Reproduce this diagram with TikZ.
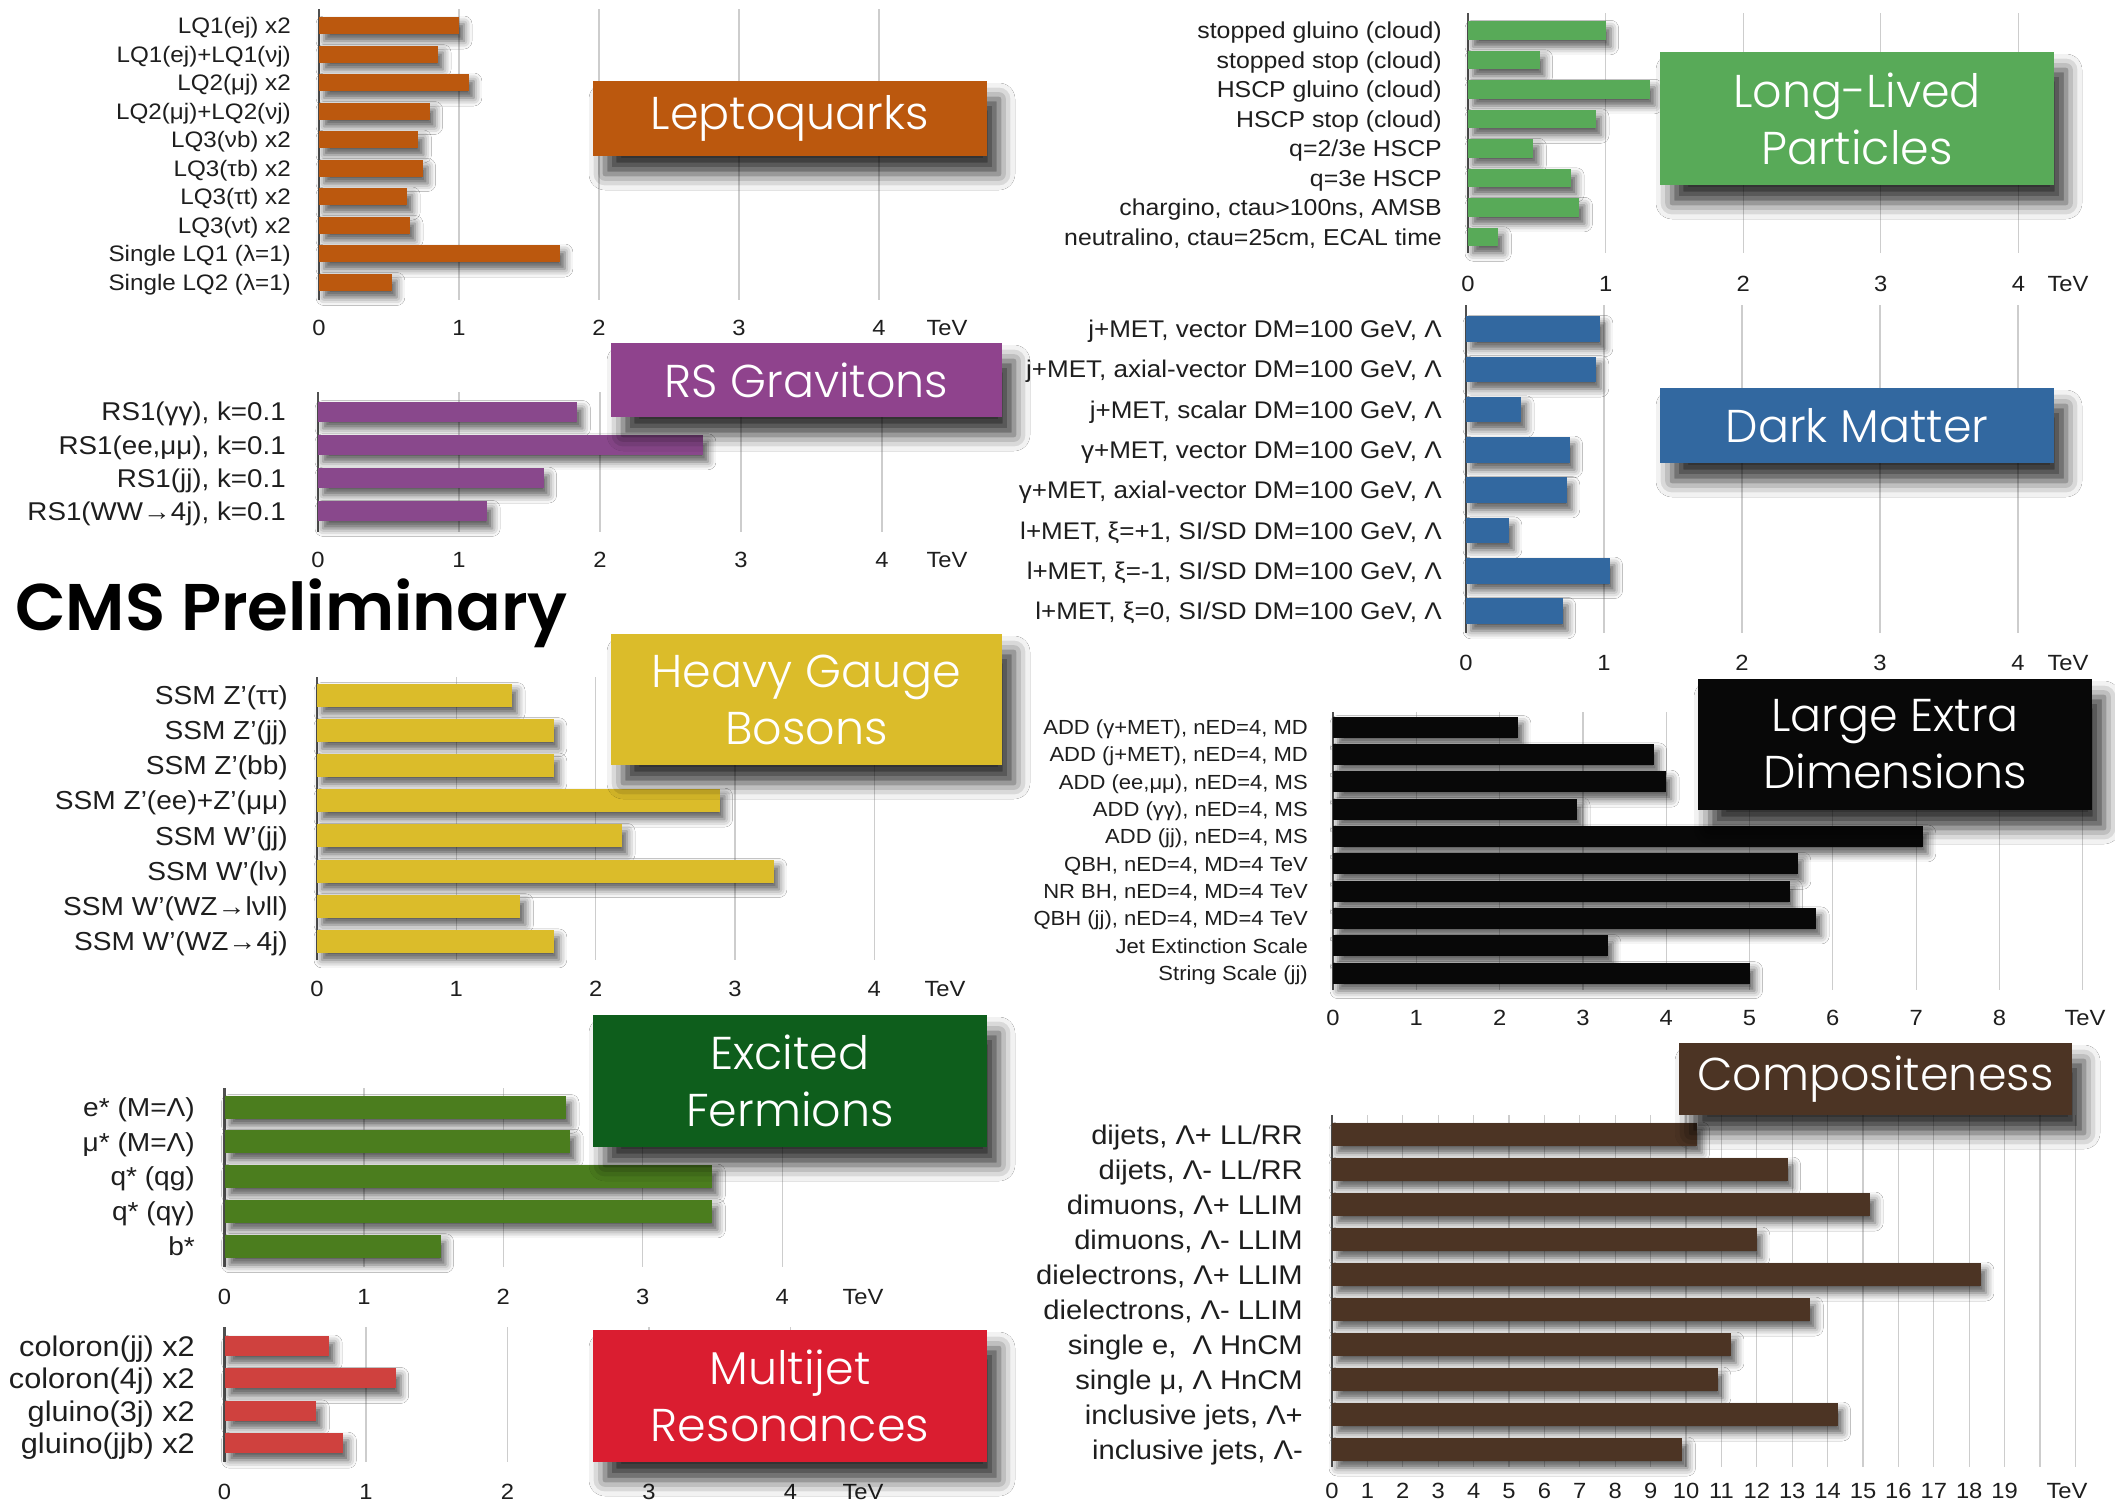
\documentclass[tikz,border=0pt]{standalone}
\usepackage{fontspec}
\setmainfont{Liberation Sans}
\newfontfamily\labfont[FakeStretch=1.08]{Liberation Sans}
\newfontfamily\titfont{Poppins Light}
\newfontfamily\cmsfont{Poppins SemiBold}
\usetikzlibrary{shadows.blur}

\definecolor{lqc}{RGB}{187,88,14}
\definecolor{rsbox}{RGB}{143,67,141}
\definecolor{rsbar}{RGB}{137,72,140}
\definecolor{hgc}{RGB}{219,188,42}
\definecolor{efbox}{RGB}{14,94,28}
\definecolor{efbar}{RGB}{75,125,30}
\definecolor{mjbox}{RGB}{218,29,48}
\definecolor{mjbar}{RGB}{207,65,62}
\definecolor{llc}{RGB}{88,170,88}
\definecolor{dmc}{RGB}{50,104,160}
\definecolor{ledc}{RGB}{8,8,8}
\definecolor{cpc}{RGB}{76,52,36}
\definecolor{labgray}{RGB}{30,30,30}
\definecolor{gridgray}{RGB}{205,205,205}
\definecolor{axisgray}{RGB}{80,80,80}

\newcounter{obj}
\def\px{0}\def\pu{1}\def\plx{0}\def\pfs{20}\def\ph{20}\def\pc{black}
\newcommand\setpanel[6]{\def\px{#1}\def\pu{#2}\def\plx{#3}\def\pfs{#4}\def\ph{#5}\def\pc{#6}}
\newcommand\gridax[3]{%
  \foreach \k in {1,...,#3}{\draw[gridline] ({\px+\k*\pu},#1) -- ({\px+\k*\pu},#2);}
  \draw[axisline] (\px,#1) -- (\px,#2);}
\newcommand\tickrow[3]{%
  \foreach \k in {0,...,#2}{\stepcounter{obj}\node[ticklab] (tk\arabic{obj}) at ({\px+\k*\pu},{#1+8}) {\k};}
  \stepcounter{obj}\node[ticklab] (tk\arabic{obj}) at (#3,{#1+8}) {TeV};}
\newcommand\hb[3]{%
  \stepcounter{obj}%
  \path[fill=\pc, barshadow] ({\px},{#1-\ph/2}) rectangle ({\px+#2*\pu},{#1+\ph/2});
  \node[barlabel, font=\labfont\fontsize{\pfs}{\pfs}\selectfont] (lb\arabic{obj}) at ({\plx},{#1+0.36*\pfs}) {#3};}

\tikzset{
  gridline/.style={draw=gridgray, line width=1.2pt},
  axisline/.style={draw=axisgray, line width=2.4pt},
  ticklab/.style={anchor=base, inner sep=0pt, text=labgray, font=\labfont\fontsize{22}{22}\selectfont},
  barlabel/.style={anchor=base east, inner sep=0pt, text=labgray},
  barshadow/.style={blur shadow={shadow xshift=5pt, shadow yshift=-7pt, shadow blur radius=8pt, shadow opacity=65}},
  titlebox/.style={text=white, font=\titfont\fontsize{46}{57}\selectfont, align=center, inner sep=0pt,
    blur shadow={shadow xshift=12pt, shadow yshift=-18pt, shadow blur radius=16pt, shadow opacity=80}},
}

\begin{document}
\begin{tikzpicture}[x=1pt, y=-1pt]
\fill[white] (0,0) rectangle (2115,1507);
\useasboundingbox (0,0) rectangle (2115,1507);

% ---------------- Leptoquarks
\setpanel{319}{140}{291}{22.4}{17}{lqc}
\gridax{9}{300}{4}
\hb{25.5}{1.0}{LQ1(ej) x2}
\hb{54}{0.85}{LQ1(ej)+LQ1(νj)}
\hb{82.5}{1.07}{LQ2(μj) x2}
\hb{111}{0.79}{LQ2(μj)+LQ2(νj)}
\hb{139.5}{0.71}{LQ3(νb) x2}
\hb{168}{0.74}{LQ3(τb) x2}
\hb{196.5}{0.63}{LQ3(τt) x2}
\hb{225}{0.65}{LQ3(νt) x2}
\hb{253.5}{1.72}{Single LQ1 (λ=1)}
\hb{282}{0.52}{Single LQ2 (λ=1)}
\tickrow{327}{4}{947}
\node[titlebox, fill=lqc, minimum width=394pt, minimum height=75pt] (lqbox) at (790,118.5) {Leptoquarks};

% ---------------- RS Gravitons
\setpanel{318}{141}{286}{25.7}{20}{rsbar}
\gridax{392}{532}{4}
\hb{411.5}{1.84}{RS1(γγ), k=0.1}
\hb{444.8}{2.73}{RS1(ee,μμ), k=0.1}
\hb{478.1}{1.6}{RS1(jj), k=0.1}
\hb{511.4}{1.2}{RS1(WW→4j), k=0.1}
\tickrow{559}{4}{947}
\node[titlebox, fill=rsbox, minimum width=391pt, minimum height=74pt] (rsboxn) at (806.5,380) {RS Gravitons};

% ---------------- CMS Preliminary
\node[anchor=base west, inner sep=0pt, text=black, font=\cmsfont\fontsize{66}{66}\selectfont] (cms) at (15,630) {CMS Preliminary};

% ---------------- Heavy Gauge Bosons
\setpanel{317}{139.3}{288}{26}{23}{hgc}
\gridax{677}{960}{4}
\hb{695}{1.40}{SSM Z’(ττ)}
\hb{730.2}{1.70}{SSM Z’(jj)}
\hb{765.4}{1.70}{SSM Z’(bb)}
\hb{800.6}{2.89}{SSM Z’(ee)+Z’(μμ)}
\hb{835.8}{2.19}{SSM W’(jj)}
\hb{871}{3.28}{SSM W’(lν)}
\hb{906.2}{1.46}{SSM W’(WZ→lνll)}
\hb{941.4}{1.70}{SSM W’(WZ→4j)}
\tickrow{988}{4}{945}
\node[titlebox, fill=hgc, minimum width=391pt, minimum height=131pt] (hgbox) at (806.5,699.5) {Heavy Gauge\\Bosons};

% ---------------- Excited Fermions
\setpanel{224.5}{139.4}{195}{26}{23}{efbar}
\gridax{1088}{1267}{4}
\hb{1107}{2.45}{e* (M=Λ)}
\hb{1141.8}{2.48}{μ* (M=Λ)}
\hb{1176.6}{3.5}{q* (qg)}
\hb{1211.4}{3.5}{q* (qγ)}
\hb{1246.2}{1.55}{b*}
\tickrow{1296}{4}{863}
\node[titlebox, fill=efbox, minimum width=394pt, minimum height=132pt] (efboxn) at (790,1081) {Excited\\Fermions};

% ---------------- Multijet Resonances
\setpanel{224.5}{141.5}{195}{28.4}{20}{mjbar}
\gridax{1327}{1462}{4}
\hb{1346}{0.74}{coloron(jj) x2}
\hb{1378.4}{1.21}{coloron(4j) x2}
\hb{1410.8}{0.65}{gluino(3j) x2}
\hb{1443.2}{0.84}{gluino(jjb) x2}
\tickrow{1491}{4}{863}
\node[titlebox, fill=mjbox, minimum width=394pt, minimum height=132pt] (mjboxn) at (790,1396) {Multijet\\Resonances};

% ---------------- Long-Lived Particles
\setpanel{1468}{137.6}{1442}{23}{18.5}{llc}
\gridax{13}{253}{4}
\hb{30.5}{1.0}{stopped gluino (cloud)}
\hb{60}{0.52}{stopped stop (cloud)}
\hb{89.5}{1.32}{HSCP gluino (cloud)}
\hb{119}{0.93}{HSCP stop (cloud)}
\hb{148.5}{0.475}{q=2/3e HSCP}
\hb{178}{0.75}{q=3e HSCP}
\hb{207.5}{0.81}{chargino, ctau>100ns, AMSB}
\hb{237}{0.22}{neutralino, ctau=25cm, ECAL time}
\tickrow{283}{4}{2068}
\node[titlebox, fill=llc, minimum width=394pt, minimum height=133pt] (llbox) at (1857,118.5) {Long-Lived\\Particles};

% ---------------- Dark Matter
\setpanel{1466}{138}{1442}{24.1}{25.5}{dmc}
\gridax{305}{633}{4}
\hb{329}{0.97}{j+MET, vector DM=100 GeV, Λ}
\hb{369.3}{0.94}{j+MET, axial-vector DM=100 GeV, Λ}
\hb{409.6}{0.40}{j+MET, scalar DM=100 GeV, Λ}
\hb{449.9}{0.75}{γ+MET, vector DM=100 GeV, Λ}
\hb{490.2}{0.73}{γ+MET, axial-vector DM=100 GeV, Λ}
\hb{530.5}{0.31}{l+MET, ξ=+1, SI/SD DM=100 GeV, Λ}
\hb{570.8}{1.04}{l+MET, ξ=-1, SI/SD DM=100 GeV, Λ}
\hb{611.1}{0.70}{l+MET, ξ=0, SI/SD DM=100 GeV, Λ}
\tickrow{662}{4}{2068}
\node[titlebox, fill=dmc, minimum width=394pt, minimum height=75pt] (dmbox) at (1857,425.5) {Dark Matter};

% ---------------- Large Extra Dimensions
\setpanel{1333}{83.3}{1308}{20.4}{21}{ledc}
\gridax{712}{990}{9}
\hb{727}{2.22}{ADD (γ+MET), nED=4, MD}
\hb{754.35}{3.85}{ADD (j+MET), nED=4, MD}
\hb{781.7}{4.0}{ADD (ee,μμ), nED=4, MS}
\hb{809.05}{2.93}{ADD (γγ), nED=4, MS}
\hb{836.4}{7.08}{ADD (jj), nED=4, MS}
\hb{863.75}{5.58}{QBH, nED=4, MD=4 TeV}
\hb{891.1}{5.48}{NR BH, nED=4, MD=4 TeV}
\hb{918.45}{5.80}{QBH (jj), nED=4, MD=4 TeV}
\hb{945.8}{3.30}{Jet Extinction Scale}
\hb{973.15}{5.0}{String Scale (jj)}
\tickrow{1017}{8}{2085}
\node[titlebox, fill=ledc, minimum width=394pt, minimum height=131pt] (ledbox) at (1895,744.5) {Large Extra\\Dimensions};

% ---------------- Compositeness
\setpanel{1332}{35.4}{1303}{27}{23}{cpc}
\gridax{1115}{1467}{21}
\hb{1134.5}{10.3}{dijets, Λ+ LL/RR}
\hb{1169.5}{12.87}{dijets, Λ- LL/RR}
\hb{1204.5}{15.2}{dimuons, Λ+ LLIM}
\hb{1239.5}{12.0}{dimuons, Λ- LLIM}
\hb{1274.5}{18.33}{dielectrons, Λ+ LLIM}
\hb{1309.5}{13.51}{dielectrons, Λ- LLIM}
\hb{1344.5}{11.27}{single e, \ Λ HnCM}
\hb{1379.5}{10.9}{single μ, Λ HnCM}
\hb{1414.5}{14.28}{inclusive jets, Λ+}
\hb{1449.5}{9.9}{inclusive jets, Λ-}
\tickrow{1490}{19}{2067}
\node[titlebox, fill=cpc, minimum width=393pt, minimum height=72pt] (cpbox) at (1875.5,1079) {Compositeness};

\end{tikzpicture}
\end{document}
